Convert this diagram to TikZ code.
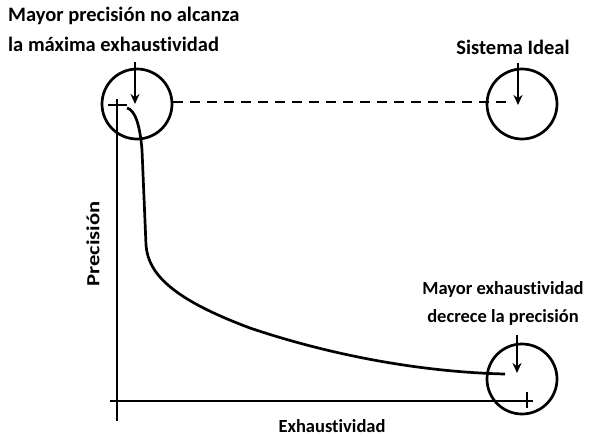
\documentclass[tikz,border=0pt]{standalone}
\usepackage{fontspec}
\setmainfont[Ligatures={NoCommon}]{Carlito}
\usetikzlibrary{arrows.meta}
\begin{document}
\begin{tikzpicture}[x=1pt,y=-1pt,
  every node/.style={font=\bfseries\fontsize{18.5}{28.5}\selectfont, inner sep=0pt},
  big/.style={font=\bfseries\fontsize{20.5}{30}\selectfont},
  ln/.style={line width=2.7pt},
  ring/.style={circle, draw, line width=2.7pt, minimum size=70pt},
  pointer/.style={line width=2.7pt, -{Stealth[length=10pt,width=9pt]}}]
\useasboundingbox (0,0) rectangle (599,436);
% circles
\node[ring] (c1) at (137,104) {};
\node[ring] (c2) at (522,104) {};
\node[ring] (c3) at (522,379) {};
% labels
\node[big, align=left, anchor=north west] (t1) at (8,7) {Mayor precisión no alcanza\\la máxima exhaustividad};
\node[big] (t2) at (513,47) {Sistema Ideal};
\node[align=center, anchor=south] (t3) at (503,326) {Mayor exhaustividad\\decrece la precisión};
\node (xl) at (332,426) {Exhaustividad};
\node[rotate=90] (yl) at (93,244) {\scalebox{1.22}[1]{Precisión}};
% arrow tips
\coordinate (p1) at (135,104);
\coordinate (p2) at (518,105);
\coordinate (p3) at (517,373);
\draw[pointer] (135,62) -- (p1);
\draw[pointer] (518,63) -- (p2);
\draw[pointer] (517,335) -- (p3);
% dashed line
\coordinate (d2) at (512,102);
\draw[ln, dash pattern=on 10pt off 7pt] (c1.east |- d2) -- (d2);
% axes
\coordinate (ytop) at (117,99);
\coordinate (ybot) at (117,421);
\coordinate (xl0) at (110,401);
\coordinate (xr) at (533,401);
\draw[ln] (ytop) -- (ybot);
\draw[ln] (xl0) -- (xr);
\draw[ln] (108,105) -- (127,105);
\draw[ln] (527,392) -- (527,408);
% curve
\draw[ln] (127,108) .. controls (135,110) and (140,125) .. (142,150) -- (146,245)
  .. controls (148,275) and (175,300) .. (250,328)
  .. controls (330,355) and (420,372) .. (505,374);
\end{tikzpicture}
\end{document}
